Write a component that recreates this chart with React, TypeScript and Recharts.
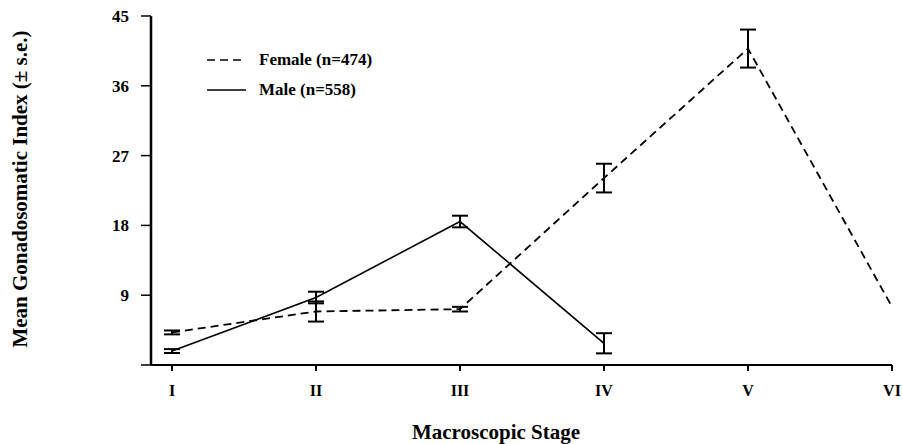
import { LineChart, Line, XAxis, YAxis, ErrorBar, Legend } from "recharts";

// Mean GSI by macroscopic stage, with standard errors
const stages = ["I", "II", "III", "IV", "V", "VI"];
const femaleMean = [4.2, 6.9, 7.2, 24.1, 40.8, 7.5];
const femaleSe = [0.25, 1.3, 0.3, 1.85, 2.45, null];
const maleMean = [1.8, 8.7, 18.5, 2.8, null, null];
const maleSe = [0.25, 0.75, 0.75, 1.3, null, null];
const yTicks = [0, 9, 18, 27, 36, 45];

const seriesInfo = [
  { key: "female", label: "Female (n=474)", dash: "8 5" },
  { key: "male", label: "Male (n=558)", dash: undefined },
];

const data = stages.map((stage, i) => ({
  stage,
  female: femaleMean[i],
  femaleSe: femaleSe[i],
  male: maleMean[i],
  maleSe: maleSe[i],
}));

const FONT = '"Liberation Serif", "Times New Roman", serif';

const LegendBox = () => (
  <div style={{ fontFamily: FONT, fontWeight: 700, fontSize: 17, color: "#000" }}>
    {seriesInfo.map((s) => (
      <div key={s.key} style={{ display: "flex", alignItems: "center", height: 30 }}>
        <svg width={54} height={10}>
          <line x1={2} y1={5} x2={41} y2={5} stroke="#000" strokeWidth={1.6} strokeDasharray={s.dash} />
        </svg>
        <span>{s.label}</span>
      </div>
    ))}
  </div>
);

export default function App() {
  return (
    <div style={{ position: "absolute", left: 0, top: 0, background: "#fff" }}>
      <LineChart
        width={902}
        height={444}
        data={data}
        margin={{ top: 16, right: 10, bottom: 49, left: 51 }}
      >
        <XAxis
          dataKey="stage"
          padding={{ left: 21, right: 0 }}
          height={30}
          tickSize={6}
          tickMargin={14}
          axisLine={{ stroke: "#000", strokeWidth: 2 }}
          tickLine={{ stroke: "#000", strokeWidth: 2 }}
          tick={{ fill: "#000", fontFamily: FONT, fontWeight: 700, fontSize: 16 }}
          label={{
            content: () => (
              <text x={496} y={439} textAnchor="middle" fill="#000" fontFamily={FONT} fontWeight={700} fontSize={21}>
                Macroscopic Stage
              </text>
            ),
          }}
        />
        <YAxis
          width={100}
          domain={[0, 45]}
          ticks={yTicks}
          interval={0}
          tickSize={10}
          tickMargin={12}
          tickFormatter={(v: number) => (v === 0 ? "" : String(v))}
          axisLine={{ stroke: "#000", strokeWidth: 2.5 }}
          tickLine={{ stroke: "#000", strokeWidth: 1.5 }}
          tick={{ fill: "#000", fontFamily: FONT, fontWeight: 700, fontSize: 17 }}
          label={{
            content: () => (
              <text
                x={27}
                y={189}
                transform="rotate(-90 27 189)"
                textAnchor="middle"
                fill="#000"
                fontFamily={FONT}
                fontWeight={700}
                fontSize={21}
              >
                Mean Gonadosomatic Index (± s.e.)
              </text>
            ),
          }}
        />
        <Legend
          layout="vertical"
          verticalAlign="middle"
          align="center"
          wrapperStyle={{ left: 205, top: 45, width: 260 }}
          content={() => <LegendBox />}
        />
        <Line
          dataKey="female"
          stroke="#000"
          strokeWidth={1.8}
          strokeDasharray="8 5"
          dot={false}
          activeDot={false}
          isAnimationActive={false}
        >
          <ErrorBar dataKey="femaleSe" width={8} stroke="#000" strokeWidth={2} direction="y" />
        </Line>
        <Line
          dataKey="male"
          stroke="#000"
          strokeWidth={1.6}
          dot={false}
          activeDot={false}
          isAnimationActive={false}
        >
          <ErrorBar dataKey="maleSe" width={8} stroke="#000" strokeWidth={2} direction="y" />
        </Line>
      </LineChart>
    </div>
  );
}
